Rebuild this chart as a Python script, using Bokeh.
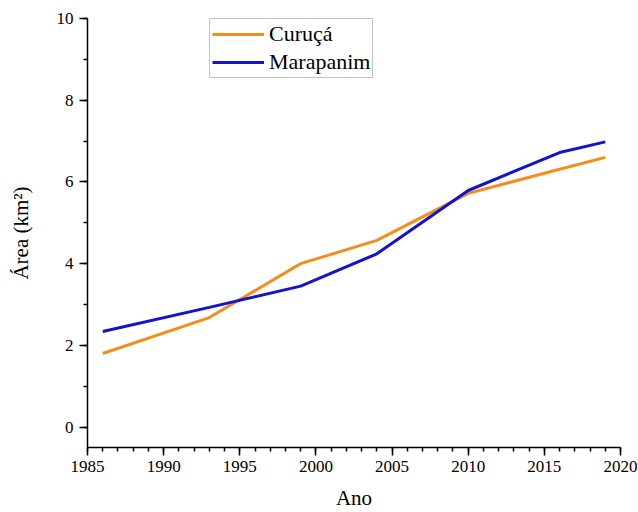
from bokeh.plotting import figure
from bokeh.models import Range1d, FixedTicker, Legend, LegendItem
from bokeh.embed import file_html
from bokeh.resources import INLINE

# Mangrove area per municipality (km²)
years = [1986, 1993, 1999, 2004, 2010, 2016, 2019]
curuca = [1.80, 2.68, 4.00, 4.57, 5.72, 6.31, 6.60]
marapanim = [2.34, 2.93, 3.45, 4.24, 5.79, 6.72, 6.98]

x_ticks = [1985, 1990, 1995, 2000, 2005, 2010, 2015, 2020]
y_ticks = [0, 2, 4, 6, 8, 10]

FONT = "Liberation Serif"
ORANGE = "#F28E1C"
BLUE = "#1212CF"

p = figure(width=638, height=512, output_backend="svg", toolbar_location=None,
           x_range=Range1d(1985, 2020), y_range=Range1d(-0.5, 10),
           min_border_left=87, min_border_right=18, min_border_top=18,
           min_border_bottom=65)
p.outline_line_color = None
p.grid.visible = False
p.background_fill_color = "white"
p.border_fill_color = "white"

r1 = p.line(years, curuca, line_color=ORANGE, line_width=3)
r2 = p.line(years, marapanim, line_color=BLUE, line_width=3)

for ax in (p.xaxis[0], p.yaxis[0]):
    ax.axis_line_width = 1.5
    ax.major_tick_line_width = 1.5
    ax.minor_tick_line_width = 1.5
    ax.major_tick_out = 8
    ax.major_tick_in = 0
    ax.minor_tick_out = 4
    ax.minor_tick_in = 0
    ax.major_label_text_font = FONT
    ax.major_label_text_font_size = "17px"
    ax.major_label_text_color = "black"
    ax.axis_label_text_font = FONT
    ax.axis_label_text_font_size = "21px"
    ax.axis_label_text_font_style = "normal"
    ax.axis_label_text_color = "black"

p.xaxis.ticker = FixedTicker(ticks=x_ticks, minor_ticks=list(range(1985, 2021)))
p.yaxis.ticker = FixedTicker(ticks=y_ticks, minor_ticks=list(range(0, 11)))
p.xaxis.axis_label = "Ano"
p.yaxis.axis_label = "Área (km²)"
p.xaxis.major_label_standoff = 5
p.yaxis.major_label_standoff = 6
p.xaxis.axis_label_standoff = 11
p.yaxis.axis_label_standoff = 21

legend = Legend(items=[LegendItem(label="Curuçá", renderers=[r1]),
                       LegendItem(label="Marapanim", renderers=[r2])],
                location=(122, 369))
legend.label_text_font = FONT
legend.label_text_font_size = "22px"
legend.label_text_color = "black"
legend.border_line_color = "#888888"
legend.border_line_width = 1
legend.background_fill_alpha = 1
legend.padding = 2
legend.spacing = 2
legend.margin = 0
legend.glyph_width = 52
legend.glyph_height = 26
legend.label_height = 26
legend.label_standoff = 5
p.add_layout(legend)

open("out.html", "w").write(file_html(p, INLINE))
